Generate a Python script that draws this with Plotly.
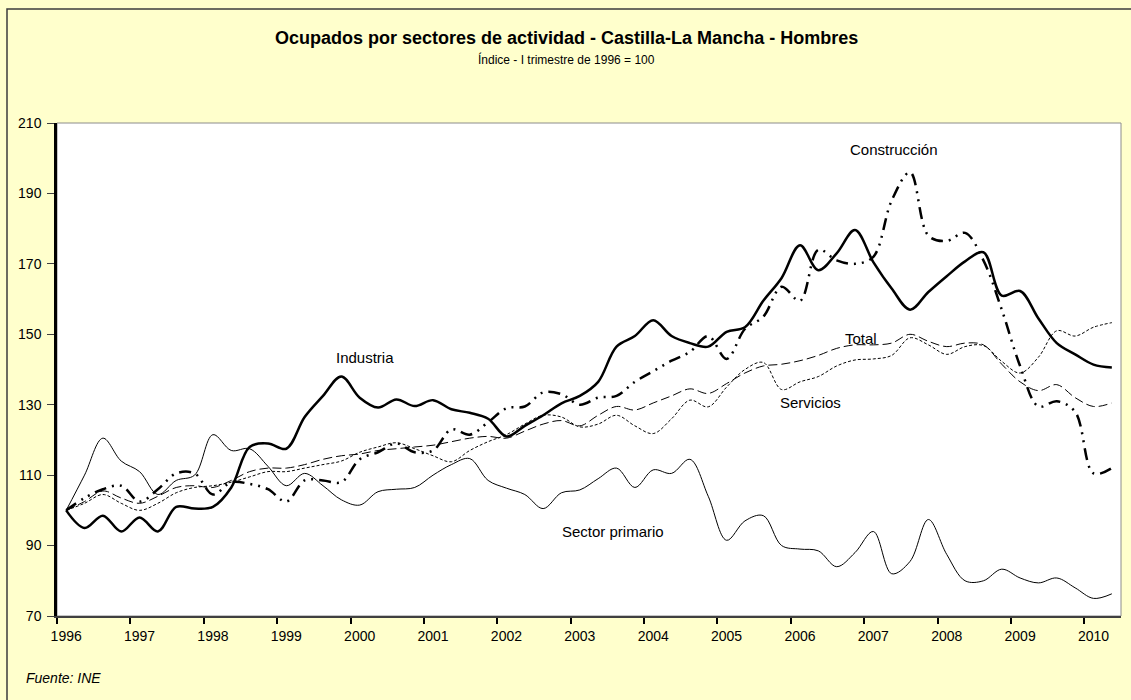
import plotly.graph_objects as go

# Quarterly series, I-1996 = 100 (index 0 = 1996 Q1 ... 57 = 2010 Q2)
quarters = list(range(58))
years = [str(y) for y in range(1996, 2011)]

industria = [100, 95, 98.5, 94, 98, 94, 101, 100.5, 101, 106.5,
             118, 119, 117.5, 126.5, 132.5, 138, 132, 129.2, 131.5, 129.6,
             131.3, 128.7, 127.7, 126, 121, 124, 127, 130.4, 132.5, 136.5,
             146.5, 149.5, 154, 149.5, 147.5, 146.5, 150.7, 152, 159.5, 166,
             175.3, 168.2, 173, 179.6, 170.5, 163, 157, 162, 166.5, 170.7,
             173.3, 161, 162.3, 154.5, 147.5, 144.3, 141.4, 140.6]

construccion = [100, 103.5, 106, 107, 102.5, 106, 110.5, 110.5, 104.5, 108,
                107.5, 106, 102.5, 108.5, 108.5, 108, 114.5, 116.5, 119, 116.5,
                117, 123, 121.5, 125, 129, 129.5, 133.5, 133, 130, 132,
                132.5, 136.5, 139.5, 142.5, 145, 149.5, 143, 151.5, 155, 163.5,
                159.5, 174, 171, 170, 172, 188, 196, 178, 176.5, 178.8,
                171, 157, 141, 129.5, 131, 128, 110.5, 112]

total = [100, 102.5, 105.5, 103.5, 102, 104, 106.5, 107, 106.5, 108.5,
         111, 112, 112, 113, 114.5, 115.5, 116, 117, 117.5, 118,
         118.5, 119.5, 120.5, 121, 120.5, 122.5, 124.5, 125.5, 124, 127,
         129.5, 128.5, 130.5, 132.5, 134.5, 133.2, 136, 139, 141, 141.5,
         142.5, 144, 146, 147, 147, 147.5, 150, 148, 146.5, 147.5,
         147, 141.5, 136.5, 134, 135.7, 132, 129.5, 130.5]

servicios = [100, 102, 104.5, 102, 100, 102, 105, 106.5, 107, 108,
             109.5, 111, 111, 112, 113, 114, 116.5, 118, 119.2, 117.5,
             115.5, 113.8, 117, 119.5, 121.5, 124.5, 127, 126.5, 123.7, 124.5,
             127, 124, 121.8, 126, 131.3, 129.4, 135, 140, 142, 134.3,
             136.5, 138, 141, 142.7, 143, 144, 149, 147, 144.3, 146.5,
             146.8, 142.3, 139, 143.5, 151, 149.5, 152, 153.3]

primario = [100, 110, 120.5, 114, 111, 104.5, 108.5, 110, 121.5, 117,
            117.5, 112.5, 107, 110.5, 107, 103, 101.5, 105.3, 106, 106.5,
            110, 113, 114.7, 108.5, 106.3, 104.5, 100.5, 105, 105.8, 109,
            112, 106.5, 111.5, 110.5, 114.5, 104, 91.5, 97, 98.5, 90,
            89, 88.5, 84, 88, 94, 82, 85.5, 97.4, 87.5, 80,
            80, 83.3, 80.8, 79.4, 80.8, 78, 75, 76.3]

# series label text and where it sits (quarter index, index value)
series_labels = ["Industria", "Construcción", "Total", "Servicios", "Sector primario"]
label_pos = [(16.3, 143.5), (45.1, 202.6), (43.3, 148.9), (40.6, 130.5), (29.8, 94.0)]

FONT = "Arial, Liberation Sans, sans-serif"

# plot area in pixels
W, H = 1131, 700
L, R, T, B = 57, 10, 123, 84
PW, PH = W - L - R, H - T - B


def px(x):
    return (x - L) / PW


def py(y):
    return (H - B - y) / PH


fig = go.Figure()

styles = [
    (primario, dict(color="black", width=1)),
    (servicios, dict(color="black", width=1, dash="3px,2px")),
    (total, dict(color="black", width=1, dash="9px,4px")),
    (construccion, dict(color="black", width=2.5, dash="12px,6px,2px,6px,2px,6px")),
    (industria, dict(color="black", width=2.5)),
]
for values, line in styles:
    fig.add_trace(go.Scatter(
        x=quarters, y=values, mode="lines",
        line=dict(shape="spline", smoothing=1, **line),
        showlegend=False, hoverinfo="skip",
    ))

annotations = []
for text, (qx, vy) in zip(series_labels, label_pos):
    annotations.append(dict(x=qx, y=vy, xref="x", yref="y", text=text,
                            showarrow=False, font=dict(family=FONT, size=15, color="black")))

annotations += [
    dict(x=px(566), y=py(38), xref="paper", yref="paper", showarrow=False,
         text="<b>Ocupados por sectores de actividad - Castilla-La Mancha - Hombres</b>",
         font=dict(family=FONT, size=18, color="black"), xanchor="center", yanchor="middle"),
    dict(x=px(566), y=py(59), xref="paper", yref="paper", showarrow=False,
         text="Índice - I trimestre de 1996 = 100",
         font=dict(family=FONT, size=12, color="black"), xanchor="center", yanchor="middle"),
    dict(x=px(24), y=py(678), xref="paper", yref="paper", showarrow=False,
         text="<i>Fuente: INE</i>",
         font=dict(family=FONT, size=14, color="black"), xanchor="left", yanchor="middle"),
]

shapes = [
    # outer chart frame (top and left edges visible)
    dict(type="rect", xref="paper", yref="paper",
         x0=px(7), x1=px(W + 20), y0=py(H + 20), y1=py(9),
         line=dict(color="#3c3c3c", width=1.5), layer="above"),
    # thin grey frame of the plot area
    dict(type="rect", xref="paper", yref="paper", x0=0, x1=1, y0=0, y1=1,
         line=dict(color="#8c8c8c", width=1), layer="below"),
]

fig.update_layout(
    width=W, height=H,
    margin=dict(l=L, r=R, t=T, b=B, pad=0),
    paper_bgcolor="#FFFFCC", plot_bgcolor="white",
    annotations=annotations, shapes=shapes,
    xaxis=dict(
        range=[-0.5, 57.5], tickmode="array",
        tickvals=[4 * k for k in range(len(years))], ticktext=years,
        ticks="outside", ticklen=6, tickcolor="rgba(0,0,0,0)",
        showline=True, linecolor="#404040", linewidth=2,
        showgrid=False, zeroline=False,
        tickfont=dict(family=FONT, size=14, color="black"),
        minor=dict(tickmode="array", tickvals=[-0.5 + 4 * k for k in range(len(years))],
                   ticks="outside", ticklen=6, tickcolor="black", tickwidth=1.5, showgrid=False),
    ),
    yaxis=dict(
        range=[70, 210], tickmode="array", tickvals=list(range(70, 211, 20)),
        ticks="outside", ticklen=7, tickcolor="#404040",
        showline=True, linecolor="black", linewidth=2.5,
        showgrid=False, zeroline=False, ticklabelstandoff=3,
        tickfont=dict(family=FONT, size=14, color="black"),
    ),
)

fig.write_html("out.html")
